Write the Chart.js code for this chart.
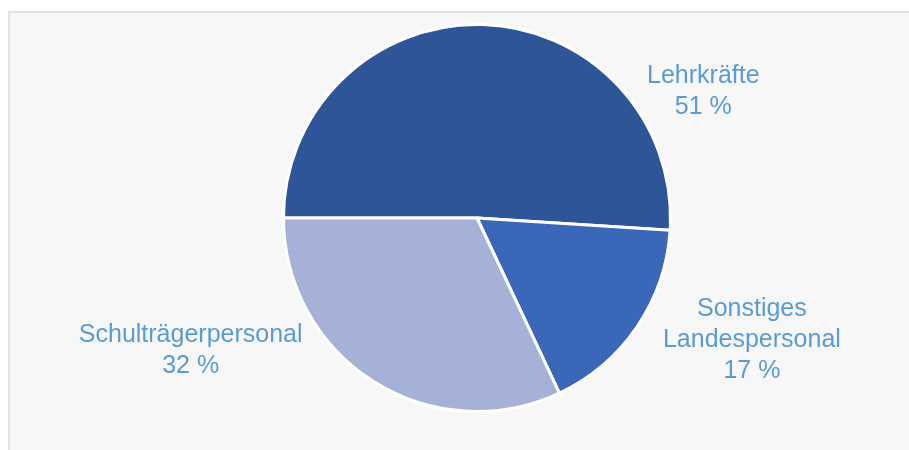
<!DOCTYPE html>
<html>
<head>
<meta charset="utf-8">
<script src="https://cdn.jsdelivr.net/npm/chart.js@4.4.1/dist/chart.umd.min.js"></script>
<style>
  html, body { margin:0; padding:0; background:#fff; width:909px; height:450px; overflow:hidden; }
  .frame { position:absolute; left:8px; top:11px; width:920px; height:460px; background:#f7f7f7; border:2px solid #e2e2e2; }
  #wrap { position:absolute; left:0; top:0; width:909px; height:450px; }
</style>
</head>
<body>
<div class="frame"></div>
<div id="wrap"><canvas id="chart-pie"></canvas></div>
<script>
// Personal an Schulen – Anteile
const labels = [['Lehrkräfte'], ['Sonstiges', 'Landespersonal'], ['Schulträgerpersonal']];
const anteile = [51, 17, 32];
const farben = ['#2e5597', '#3a67b8', '#a6b1d8'];

// Beschriftung neben den Segmenten (Winkel in Grad, Abstand relativ zum Radius)
const labelPlacement = [
  { angle: -29.2, dist: 1.34 },
  { angle: 24, dist: 1.555 },
  { angle: 155.2, dist: 1.63 }
];

const pieLabels = {
  id: 'pieLabels',
  afterDatasetsDraw(chart) {
    const { ctx } = chart;
    const meta = chart.getDatasetMeta(0);
    ctx.save();
    ctx.font = '25px "Liberation Sans", Arial, sans-serif';
    ctx.fillStyle = '#5b9bd5';
    ctx.textAlign = 'center';
    ctx.textBaseline = 'middle';
    const lh = 31;
    meta.data.forEach((arc, i) => {
      const p = labelPlacement[i];
      const a = p.angle * Math.PI / 180;
      const r = arc.outerRadius * p.dist;
      const cx = arc.x + Math.cos(a) * r;
      const cy = arc.y + Math.sin(a) * r;
      const lines = labels[i].concat([anteile[i] + ' %']);
      const y0 = cy - (lines.length - 1) * lh / 2;
      lines.forEach((t, j) => ctx.fillText(t, cx, y0 + j * lh));
    });
    ctx.restore();
  }
};

new Chart(document.getElementById('chart-pie'), {
  type: 'pie',
  data: {
    labels: labels.map(l => l.join(' ')),
    datasets: [{ data: anteile, backgroundColor: farben, borderColor: '#ffffff', borderWidth: 3 }]
  },
  options: {
    responsive: true, maintainAspectRatio: false, animation: false,
    rotation: -90,
    layout: { padding: { left: 282, right: 237, top: 23, bottom: 37 } },
    plugins: { legend: { display: false }, tooltip: { enabled: false } }
  },
  plugins: [pieLabels]
});
</script>
</body>
</html>
